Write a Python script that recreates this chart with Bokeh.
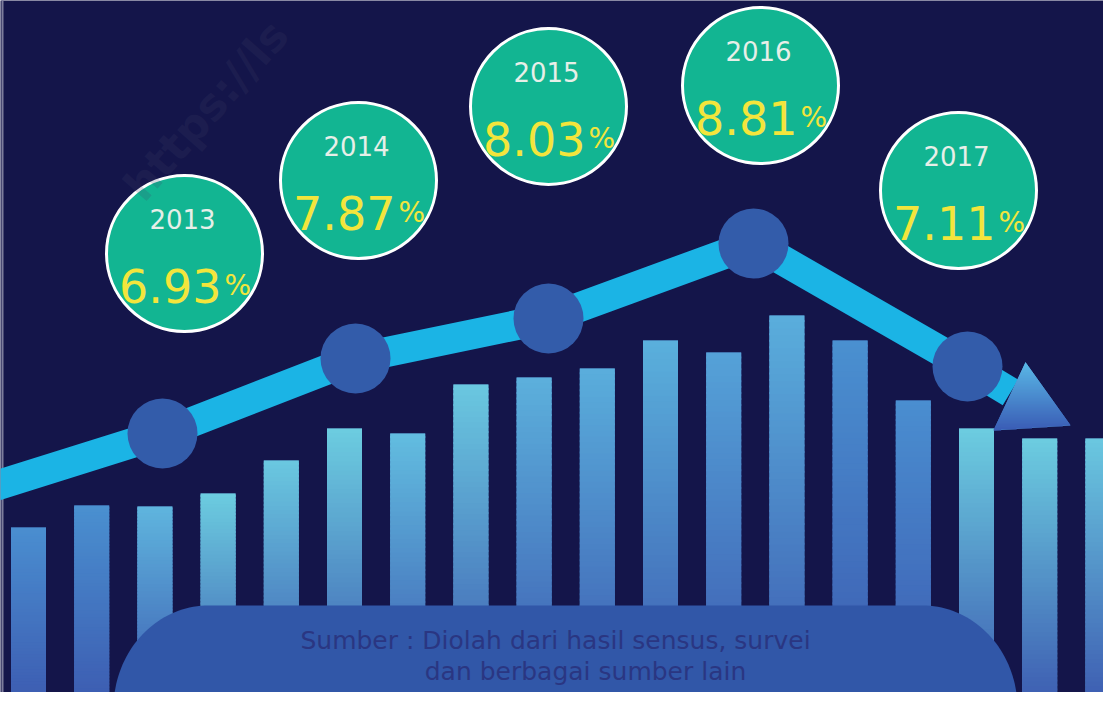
import numpy as np
from bokeh.plotting import figure
from bokeh.models import Range1d, ColumnDataSource
from bokeh.core.properties import value
from bokeh.embed import file_html
from bokeh.resources import INLINE

# ---------------- data ----------------
years = ["2013", "2014", "2015", "2016", "2017"]
pct_values = [6.93, 7.87, 8.03, 8.81, 7.11]
line_x = [162, 355, 548, 753, 967]          # horizontal position of each year's dot
line_level = [275, 350, 390, 465, 342]      # height of each year's dot on the trend line

bar_heights = [181, 203, 202, 215, 248, 280, 275, 324, 331, 340,
               368, 356, 393, 368, 308, 280, 270, 270]
bar_top_colors = ["#4a8ed0", "#4a90d0", "#5fb5de", "#6ccde0", "#6ac8e0", "#6ccde0",
                  "#62bde0", "#6ac8e0", "#5cb0dc", "#5aaedc", "#5ab0dc", "#55a2d8",
                  "#5aaedc", "#4a90d0", "#4a8ed0", "#6ccde0", "#6ccde0", "#6ac8e0"]

footer_lines = ["Sumber : Diolah dari hasil sensus, survei", "dan berbagai sumber lain"]
watermark = "https://ls"

# ---------------- style / layout ----------------
BG = "#14154a"
BAR_BOTTOM = "#3c5ab0"
BAR_X0, BAR_PITCH, BAR_W = 28, 63.2, 35
LINE_COLOR = "#1bb4e5"
DOT_COLOR = "#335caa"
BUBBLE_FILL = "#12b592"
YELLOW = "#f3e53c"
BOX_COLOR = "#3157a8"
FOOTER_COLOR = "#2a3682"
bubble_x = [184, 358, 548, 760, 958]
bubble_y = [455, 528, 602, 623, 518]


def hex2rgb(h):
    h = h.lstrip("#")
    return np.array([int(h[i:i + 2], 16) for i in (0, 2, 4)], dtype=float)


def lerp(c1, c2, t):
    a, b = hex2rgb(c1), hex2rgb(c2)
    c = a + (b - a) * t
    return "#%02x%02x%02x" % tuple(int(round(v)) for v in c)


p = figure(width=1103, height=692, x_range=Range1d(0, 1103), y_range=Range1d(16, 708),
           output_backend="svg", toolbar_location=None, min_border=0,
           x_axis_type=None, y_axis_type=None,
           background_fill_color=BG, border_fill_color=BG)
p.xgrid.visible = False
p.ygrid.visible = False
p.outline_line_color = None

# thin frame line on the left edge
p.quad(left=[1], right=[3], bottom=[0], top=[720], fill_color="#7c7c9c", line_color=None)

# ---- gradient bars ----
bar_cx = [BAR_X0 + BAR_PITCH * i for i in range(len(bar_heights))]
p.quad(left=[c - BAR_W / 2 for c in bar_cx], right=[c + BAR_W / 2 for c in bar_cx],
       bottom=0, top=bar_heights,
       fill_color=[lerp(BAR_BOTTOM, tc, 0.5) for tc in bar_top_colors], line_color=None)
L, R, B, T, C = [], [], [], [], []
n = 60
for cx, h, tc in zip(bar_cx, bar_heights, bar_top_colors):
    edges = np.linspace(0, h, n + 1)
    for k in range(n):
        L.append(cx - BAR_W / 2)
        R.append(cx + BAR_W / 2)
        B.append(edges[k])
        T.append(min(edges[k + 1] + 2.0, h))
        C.append(lerp(BAR_BOTTOM, tc, (edges[k] + edges[k + 1]) / 2 / h))
p.quad(source=ColumnDataSource(dict(l=L, r=R, b=B, t=T, c=C)),
       left="l", right="r", bottom="b", top="t", fill_color="c", line_color=None)

# ---- rounded footer box ----
rx, ry = 95, 103
lcx, rcx = 208, 922
th = np.linspace(np.pi, np.pi / 2, 40)
xs = [113, 113] + list(lcx + rx * np.cos(th))
ys = [-20, 0] + list(ry * np.sin(th))
th2 = np.linspace(np.pi / 2, 0, 40)
xs += list(rcx + rx * np.cos(th2)) + [rcx + rx, rcx + rx]
ys += list(ry * np.sin(th2)) + [0, -20]
p.patch(xs, ys, fill_color=BOX_COLOR, line_color=None)

p.text(x=[555, 585], y=[68, 37], text=footer_lines, text_align="center",
       text_baseline="alphabetic", text_font=value("DejaVu Sans"),
       text_font_size="25px", text_color=FOOTER_COLOR)

# ---- trend line ----
lx = [-10] + line_x + [1010]
ly = [221] + line_level + [316]
p.line(lx, ly, line_width=30, line_color=LINE_COLOR, line_join="round")

# ---- arrow head (gradient) ----
A, Bv, Cv = (1025, 346), (993, 278), (1070, 283)
tri = [A, Bv, Cv]
p.patch([v[0] for v in tri], [v[1] for v in tri], fill_color=lerp("#3a5cb5", "#5ab8e6", 0.5),
        line_color=None)
ymin, ymax = min(v[1] for v in tri), max(v[1] for v in tri)
al, ar, ab, at, ac = [], [], [], [], []
for yb in np.arange(ymin, ymax, 1.0):
    ym = yb + 0.5
    xsx = []
    for (x1, y1), (x2, y2) in [(A, Bv), (Bv, Cv), (Cv, A)]:
        if (y1 - ym) * (y2 - ym) <= 0 and y1 != y2:
            xsx.append(x1 + (ym - y1) * (x2 - x1) / (y2 - y1))
    if len(xsx) >= 2:
        al.append(min(xsx)); ar.append(max(xsx))
        ab.append(yb); at.append(yb + 1.5)
        ac.append(lerp("#3a5cb5", "#5ab8e6", (ym - ymin) / (ymax - ymin)))
p.quad(source=ColumnDataSource(dict(l=al, r=ar, b=ab, t=at, c=ac)),
       left="l", right="r", bottom="b", top="t", fill_color="c", line_color=None)

# ---- dots ----
p.scatter(line_x, line_level, size=70, fill_color=DOT_COLOR, line_color=None)

# ---- bubbles ----
p.scatter(bubble_x, bubble_y, size=156, fill_color=BUBBLE_FILL, line_color="white", line_width=3)
bx = np.array(bubble_x, dtype=float)
by = np.array(bubble_y, dtype=float)
p.text(x=bx - 2, y=by + 35, text=years, text_align="center", text_baseline="alphabetic",
       text_font=value("DejaVu Sans"), text_font_size="26px", text_color="#e6efe8")
p.text(x=bx + 37, y=by - 32, text=["%.2f" % v for v in pct_values], text_align="right",
       text_baseline="alphabetic", text_font=value("DejaVu Sans"), text_font_size="46px",
       text_color=YELLOW)
p.text(x=bx + 40, y=by - 32, text=["%"] * len(years), text_align="left",
       text_baseline="alphabetic", text_font=value("DejaVu Sans"), text_font_size="28px",
       text_color=YELLOW)

# ---- watermark ----
p.text(x=[132], y=[515], text=[watermark], angle=np.pi * 0.27, text_align="left",
       text_baseline="alphabetic", text_font=value("DejaVu Sans"), text_font_style="bold",
       text_font_size="44px", text_color="#404068", text_alpha=0.2)

open("out.html", "w").write(file_html(p, INLINE))
